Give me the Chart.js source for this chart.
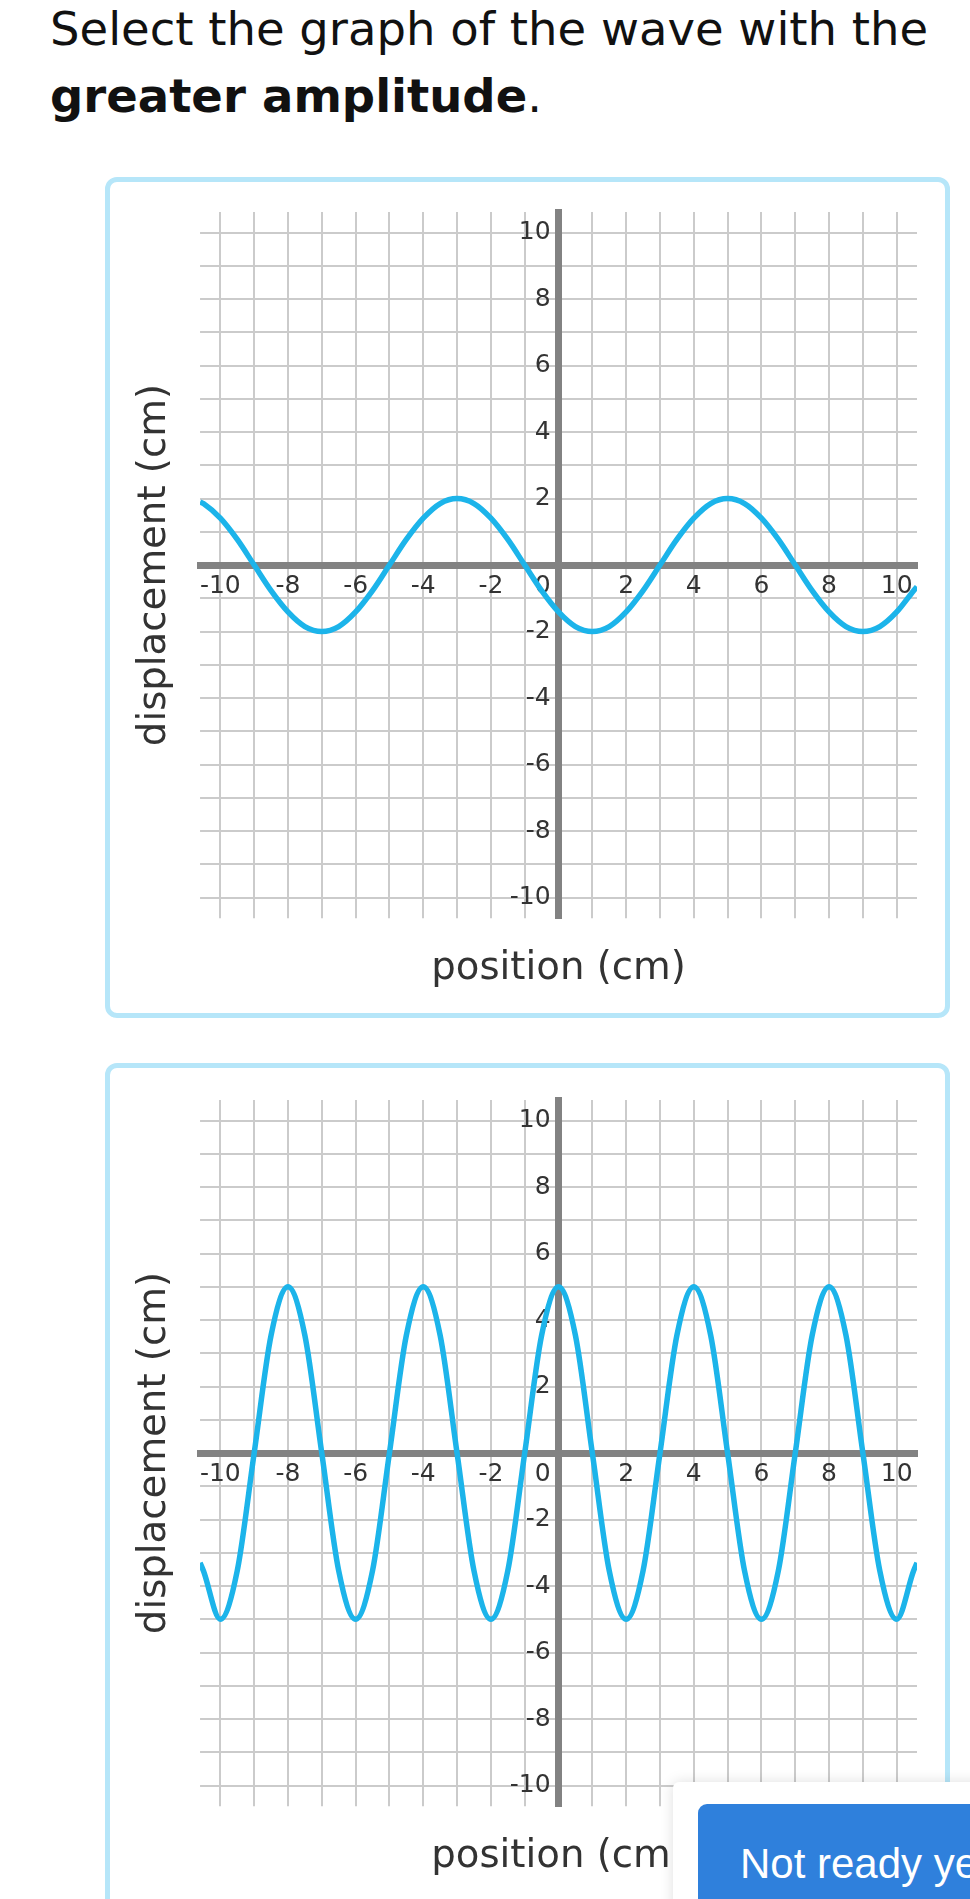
<!DOCTYPE html>
<html>
<head>
<meta charset="utf-8">
<script src="https://cdn.jsdelivr.net/npm/chart.js@4.4.1/dist/chart.umd.min.js"></script>
<style>
  html, body { margin: 0; padding: 0; background: #fff; }
  body { width: 970px; height: 1899px; position: relative; overflow: hidden; font-family: 'DejaVu Sans', sans-serif; }
  .question { position: absolute; left: 50px; top: -4px; font-size: 46.5px; line-height: 66.7px; color: #111; white-space: nowrap; }
  .card { position: absolute; left: 105px; width: 835px; border: 5px solid #b6e6f9; border-radius: 12px; background: #fff; }
  .card canvas { position: absolute; left: 0; top: 0; }
  #card1 { top: 177px; height: 831px; }
  #card2 { top: 1063px; height: 900px; }
  .panel { position: absolute; left: 673px; top: 1782px; width: 400px; height: 200px; background: #fff; border-radius: 6px; box-shadow: 0 0 14px rgba(0,0,0,0.13); }
  .button { position: absolute; left: 25px; top: 22px; width: 400px; height: 200px; background: #2f80dc; border-radius: 9px; }
  .button span { position: absolute; left: 42px; top: 39px; font-family: 'Liberation Sans', Arial, sans-serif; font-size: 42px; line-height: 42px; color: #fff; white-space: nowrap; }
</style>
</head>
<body>
<div class="question">Select the graph of the wave with the<br><b>greater amplitude</b>.</div>

<div class="card" id="card1"><canvas id="wave1" width="835" height="831" style="width:835px;height:831px"></canvas></div>
<div class="card" id="card2"><canvas id="wave2" width="835" height="833" style="width:835px;height:833px"></canvas></div>

<div class="panel"><div class="button"><span>Not ready yet</span></div></div>

<script>
// positions (cm) the waves were read at
const positions = [-10.6, -10.5, -10, -9.5, -9, -8.5, -8, -7.5, -7, -6.5, -6, -5.5, -5, -4.5, -4, -3.5, -3, -2.5, -2, -1.5, -1, -0.5,
  0, 0.5, 1, 1.5, 2, 2.5, 3, 3.5, 4, 4.5, 5, 5.5, 6, 6.5, 7, 7.5, 8, 8.5, 9, 9.5, 10, 10.5, 10.6];

// displacement (cm), top graph
const wave1 = [1.9, 1.85, 1.41, 0.77, 0, -0.77, -1.41, -1.85, -2, -1.85, -1.41, -0.77, 0, 0.77, 1.41, 1.85, 2, 1.85, 1.41, 0.77, 0, -0.77,
  -1.41, -1.85, -2, -1.85, -1.41, -0.77, 0, 0.77, 1.41, 1.85, 2, 1.85, 1.41, 0.77, 0, -0.77, -1.41, -1.85, -2, -1.85, -1.41, -0.77, -0.65];

// displacement (cm), bottom graph
const wave2 = [-3.3, -3.54, -5, -3.54, 0, 3.54, 5, 3.54, 0, -3.54, -5, -3.54, 0, 3.54, 5, 3.54, 0, -3.54, -5, -3.54, 0, 3.54,
  5, 3.54, 0, -3.54, -5, -3.54, 0, 3.54, 5, 3.54, 0, -3.54, -5, -3.54, 0, 3.54, 5, 3.54, 0, -3.54, -5, -3.54, -3.3];

// labelled ticks on both axes
const labelledTicks = [-10, -8, -6, -4, -2, 0, 2, 4, 6, 8, 10];
const axisMin = -10.6;
const axisMax = 10.6;

const gridColor = '#cbcbcb';
const axisColor = '#828282';
const textColor = '#333';
const waveColor = '#1cb4ea';

Chart.defaults.font.family = "'DejaVu Sans', sans-serif";
Chart.defaults.color = textColor;

function xTick(v) {
  if (v === 0) return '0    '; // 0 sits left of the vertical axis
  return labelledTicks.includes(v) ? String(v) : '';
}

function yTick(v) {
  if (v === 0) return '';
  return labelledTicks.includes(v) ? String(v) + ' ' : '';
}

function makeChart(id, values, padTop) {
  const points = positions.map((p, i) => ({ x: p, y: values[i] }));
  return new Chart(document.getElementById(id), {
    type: 'line',
    data: {
      datasets: [{
        data: points,
        xAxisID: 'x',
        yAxisID: 'y',
        borderColor: waveColor,
        borderWidth: 5.5,
        pointRadius: 0,
        fill: false,
        cubicInterpolationMode: 'monotone'
      }]
    },
    options: {
      responsive: false,
      animation: false,
      events: [],
      layout: { padding: { top: padTop, right: 28, left: 0, bottom: 20.4 } },
      plugins: { legend: { display: false }, tooltip: { enabled: false } },
      scales: {
        x: {
          type: 'linear',
          min: axisMin,
          max: axisMax,
          position: { y: 0 },
          grid: { color: gridColor, lineWidth: 2, drawTicks: false },
          border: { color: axisColor, width: 7 },
          ticks: {
            stepSize: 1, includeBounds: false, autoSkip: false, maxRotation: 0, minRotation: 0,
            padding: 6, font: { size: 25 }, color: textColor, callback: xTick
          }
        },
        y: {
          type: 'linear',
          min: -10.62,
          max: 10.62,
          position: { x: 0 },
          grid: { color: gridColor, lineWidth: 2, drawTicks: false },
          border: { color: axisColor, width: 7 },
          ticks: {
            stepSize: 1, includeBounds: false, autoSkip: false,
            font: { size: 25 }, color: textColor, callback: yTick
          }
        },
        xTitle: {
          type: 'linear',
          position: 'bottom',
          min: 0, max: 1,
          grid: { display: false, drawTicks: false },
          border: { display: false },
          ticks: { display: false },
          title: { display: true, text: 'position (cm)', font: { size: 38.7 }, color: textColor, padding: { top: 28, bottom: 0 } }
        },
        yTitle: {
          type: 'linear',
          position: 'left',
          min: 0, max: 1,
          grid: { display: false, drawTicks: false },
          border: { display: false },
          ticks: { display: false },
          title: { display: true, text: 'displacement (cm)', font: { size: 38.7 }, color: textColor, padding: { top: 22.2, bottom: 21.4 } }
        }
      }
    }
  });
}

makeChart('wave1', wave1, 30);
makeChart('wave2', wave2, 32);
</script>
</body>
</html>
